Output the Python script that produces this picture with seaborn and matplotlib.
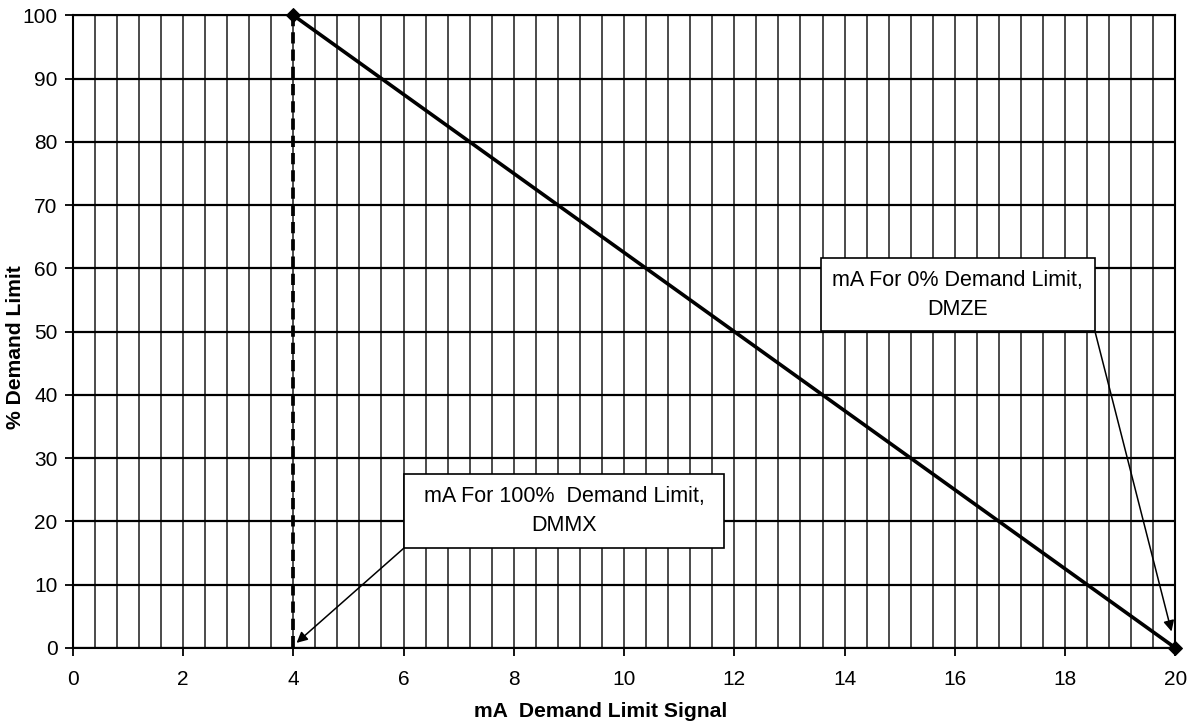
import matplotlib
matplotlib.use("Agg")
import matplotlib.pyplot as plt
from matplotlib.ticker import MultipleLocator
from matplotlib.patches import Rectangle
import seaborn as sns
import pandas as pd

# Data
signal_ma = [4, 20]
demand_pct = [100, 0]
dmmx_x = [4, 4]
dmmx_y = [100, 0]
x_ticks = [0, 2, 4, 6, 8, 10, 12, 14, 16, 18, 20]
y_ticks = [0, 10, 20, 30, 40, 50, 60, 70, 80, 90, 100]
label_zero = "mA For 0% Demand Limit,\nDMZE"
label_full = "mA For 100%  Demand Limit,\nDMMX"

sns.set_theme(style="white")
plt.rcParams['font.family'] = ['Liberation Sans', 'DejaVu Sans']
plt.rcParams['text.color'] = 'black'
plt.rcParams['axes.labelcolor'] = 'black'
plt.rcParams['xtick.color'] = 'black'
plt.rcParams['ytick.color'] = 'black'

fig = plt.figure(figsize=(11.94, 7.28), dpi=100)
ax = fig.add_axes([0.0609, 0.110, 0.9235, 0.869])

line_df = pd.DataFrame({"x": signal_ma, "y": demand_pct})
dash_df = pd.DataFrame({"x": dmmx_x, "y": dmmx_y})

ax.set_xlim(0, 20)
ax.set_ylim(0, 100)
ax.xaxis.set_minor_locator(MultipleLocator(0.4))
ax.set_xticks(x_ticks)
ax.set_yticks(y_ticks)
ax.grid(True, axis='x', which='both', color='#1a1a1a', lw=1.1, zorder=0)
ax.grid(True, axis='y', which='major', color='black', lw=1.6, zorder=0)
ax.set_axisbelow(True)

sns.lineplot(data=dash_df, x="x", y="y", ax=ax, color="black", lw=2.7,
             linestyle=(0, (3.0, 1.6)), estimator=None, sort=False, zorder=3)
sns.lineplot(data=line_df, x="x", y="y", ax=ax, color="black", lw=2.6,
             marker="D", markersize=7, markeredgecolor="black", zorder=4,
             estimator=None, sort=False, clip_on=False)

ax.set_xlim(0, 20)
ax.set_ylim(0, 100)

for s in ax.spines.values():
    s.set_color("black")
    s.set_linewidth(1.5)

ax.tick_params(axis='both', which='major', direction='out', length=6, width=1.3,
               color='black', labelcolor='black', labelsize=15, pad=5,
               bottom=True, left=True)
ax.tick_params(axis='both', which='minor', length=0)
ax.tick_params(axis='x', pad=10)

ax.set_xlabel("mA  Demand Limit Signal", fontsize=15.2, fontweight='bold',
              va='center', color='black')
ax.set_ylabel("% Demand Limit", fontsize=15.2, fontweight='bold',
              va='center', color='black')
ax.xaxis.set_label_coords(0.479, -0.101)
ax.yaxis.set_label_coords(-0.0523, 0.475)

# annotation boxes
def box(x0, x1, y0, y1, text):
    ax.add_patch(Rectangle((x0, y0), x1 - x0, y1 - y0, facecolor='white',
                           edgecolor='black', lw=1.2, zorder=5))
    ax.text((x0 + x1) / 2, (y0 + y1) / 2, text, ha='center', va='center',
            fontsize=15.5, linespacing=1.5, zorder=6, color='black')

box(13.57, 18.54, 50.1, 61.6, label_zero)
box(6.01, 11.82, 15.8, 27.5, label_full)

ax.annotate("", xy=(19.93, 2.6), xytext=(18.54, 50.1),
            arrowprops=dict(arrowstyle='-|>', color='black', lw=1.1,
                            mutation_scale=16, shrinkA=0, shrinkB=0), zorder=6)
ax.annotate("", xy=(4.06, 0.8), xytext=(6.01, 15.8),
            arrowprops=dict(arrowstyle='-|>', color='black', lw=1.1,
                            mutation_scale=16, shrinkA=0, shrinkB=0), zorder=6)

fig.savefig("out.png", dpi=100)
